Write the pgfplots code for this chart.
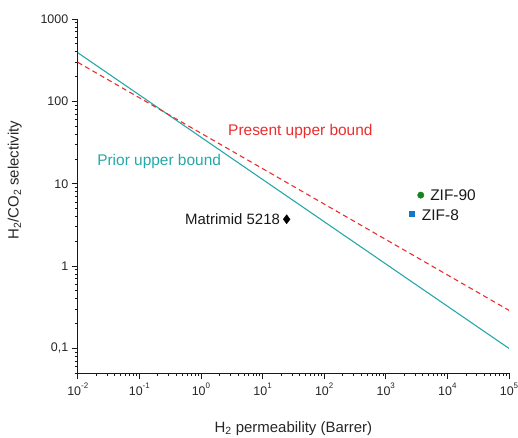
\documentclass[border=0pt]{standalone}
\usepackage{pgfplots}
\pgfplotsset{compat=1.18}
\usepackage{fontspec}
\setmainfont{Liberation Sans}

\definecolor{priorcol}{RGB}{38,168,168}
\definecolor{presentcol}{RGB}{235,45,45}
\definecolor{zifgreen}{RGB}{20,130,30}
\definecolor{zifblue}{RGB}{20,120,200}
\definecolor{axiscol}{RGB}{25,25,25}

% power-of-ten tick label with a small raised exponent
\newcommand{\dec}[1]{10\raisebox{0.55em}{\fontsize{8}{8}\selectfont #1}}

\begin{document}
\begin{tikzpicture}
\begin{axis}[
  at={(0,0)}, anchor=south west,
  scale only axis, width=431bp, height=354bp,
  xmode=log, ymode=log,
  xmin=1e-2, xmax=1e5, ymin=0.05, ymax=1000,
  axis x line=bottom, axis y line=left,
  axis line style={-, draw=axiscol, line width=1pt},
  tick align=outside,
  major tick length=6bp, minor tick length=3bp,
  tick style={draw=axiscol, line width=0.8pt},
  xtick={1e-2,1e-1,1,10,100,1e3,1e4,1e5},
  xticklabels={\dec{-2},\dec{-1},\dec{0},\dec{1},\dec{2},\dec{3},\dec{4},\dec{5}},
  ytick={0.1,1,10,100,1000},
  yticklabels={{0,1},1,10,100,1000},
  minor xtick={0.02,0.03,0.04,0.05,0.06,0.07,0.08,0.09,
               0.2,0.3,0.4,0.5,0.6,0.7,0.8,0.9,
               2,3,4,5,6,7,8,9,
               20,30,40,50,60,70,80,90,
               200,300,400,500,600,700,800,900,
               2000,3000,4000,5000,6000,7000,8000,9000,
               20000,30000,40000,50000,60000,70000,80000,90000},
  minor ytick={0.05,0.06,0.07,0.08,0.09,
               0.2,0.3,0.4,0.5,0.6,0.7,0.8,0.9,
               2,3,4,5,6,7,8,9,
               20,30,40,50,60,70,80,90,
               200,300,400,500,600,700,800,900},
  tick label style={font=\fontsize{12.5}{14}\selectfont, text=black!85},
  xlabel={H\textsubscript{2} permeability (Barrer)},
  ylabel={H\textsubscript{2}/CO\textsubscript{2} selectivity},
  label style={font=\fontsize{15}{17}\selectfont, text=black!85},
  xlabel style={at={(axis description cs:0.5,0)}, anchor=center, yshift=-55bp},
  ylabel style={at={(axis description cs:-0.146,0.545)}, anchor=center, rotate=0},
]
% prior upper bound
\addplot[priorcol, line width=1.1pt] coordinates {(0.01,390) (1e5,0.1)};
% present upper bound
\addplot[presentcol, line width=1.1pt, dash pattern=on 5bp off 3.5bp] coordinates {(0.01,298) (1e5,0.29)};
% membranes
\addplot[only marks, mark=diamond*, mark size=4.5bp, black] coordinates {(24.6,3.7)};
\addplot[only marks, mark=*, mark size=3.2bp, zifgreen, mark options={draw=zifgreen, fill=zifgreen}] coordinates {(3700,7.27)};
\addplot[only marks, mark=square*, mark size=2.8bp, zifblue, mark options={draw=zifblue, fill=zifblue}] coordinates {(2640,4.33)};

\node[anchor=west, inner sep=0, text=priorcol, font=\fontsize{15.5}{17}\selectfont] at (axis cs:0.0206,18.8) {Prior upper bound};
\node[anchor=west, inner sep=0, text=presentcol, font=\fontsize{15.5}{17}\selectfont] at (axis cs:2.75,43.6) {Present upper bound};
\node[anchor=east, inner sep=0, xshift=-6.5bp, text=black!90, font=\fontsize{15}{17}\selectfont] at (axis cs:24.6,3.7) {Matrimid 5218};
\node[anchor=west, inner sep=0, xshift=9.3bp, text=black!90, font=\fontsize{15.5}{17}\selectfont] at (axis cs:3700,7.27) {ZIF-90};
\node[anchor=west, inner sep=0, xshift=10bp, yshift=-2bp, text=black!90, font=\fontsize{15.5}{17}\selectfont] at (axis cs:2640,4.33) {ZIF-8};
\end{axis}
\pgfresetboundingbox
\path[use as bounding box] (-77.7bp,-64bp) rectangle (440bp,373bp);
\end{tikzpicture}
\end{document}
